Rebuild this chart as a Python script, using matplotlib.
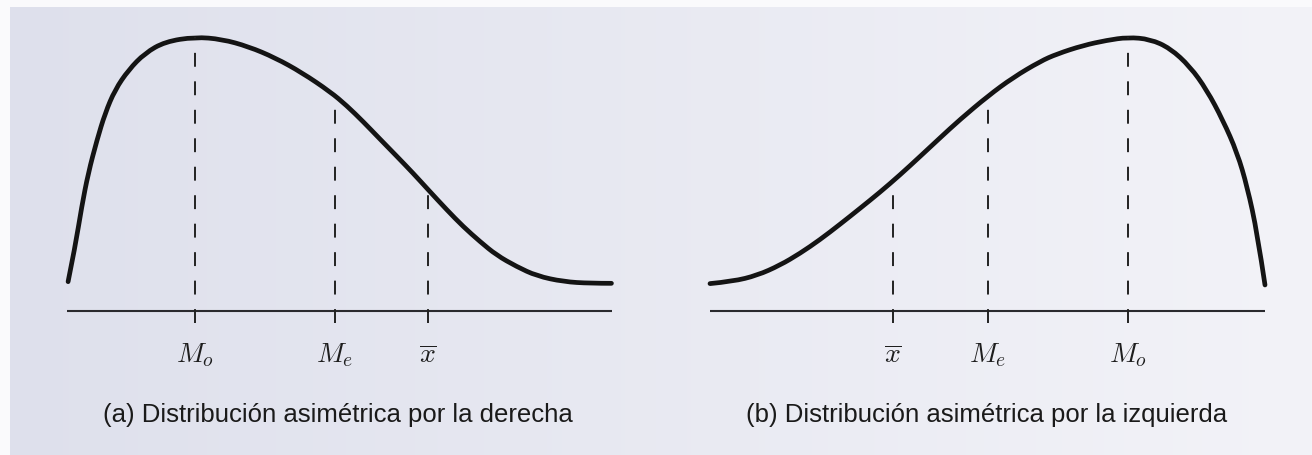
import numpy as np
import matplotlib
matplotlib.use("Agg")
import matplotlib.pyplot as plt
from matplotlib.path import Path
from matplotlib.patches import PathPatch

plt.rcParams["mathtext.fontset"] = "cm"
plt.rcParams["lines.scale_dashes"] = False

# --- (a) right-skewed density: x from 0 to 10 along the axis, height relative to the peak
right_skew_x = [0.02, 0.15, 0.27, 0.39, 0.55, 0.70, 0.88, 1.13, 1.43, 1.80, 2.35,
                2.84, 3.33, 3.82, 4.31, 4.83, 5.13, 5.44, 5.74, 6.05, 6.35, 6.63,
                6.97, 7.27, 7.58, 7.88, 8.25, 8.62, 9.11, 9.60, 9.99]
right_skew_y = [0.107, 0.235, 0.381, 0.503, 0.624, 0.722, 0.807, 0.880, 0.941, 0.983, 1.000,
                0.992, 0.965, 0.924, 0.870, 0.800, 0.750, 0.690, 0.628, 0.565, 0.503, 0.442,
                0.369, 0.308, 0.253, 0.204, 0.162, 0.128, 0.107, 0.101, 0.101]
right_skew_marks = [2.35, 4.92, 6.63]

# --- (b) left-skewed density
left_skew_x = [0.00, 0.41, 0.85, 1.26, 1.62, 1.98, 2.34, 2.70, 3.06, 3.42, 3.78, 4.14,
               4.50, 5.01, 5.46, 5.95, 6.25, 6.72, 7.15, 7.53, 7.93, 8.29, 8.65, 8.95,
               9.24, 9.50, 9.68, 9.86, 10.00]
left_skew_y = [0.100, 0.108, 0.130, 0.167, 0.210, 0.260, 0.316, 0.374, 0.433, 0.496,
               0.563, 0.631, 0.698, 0.785, 0.852, 0.911, 0.938, 0.969, 0.988, 0.999,
               0.992, 0.959, 0.892, 0.807, 0.697, 0.577, 0.453, 0.285, 0.095]
left_skew_marks = [3.30, 5.01, 7.53]

right_skew_labels = [r"$M_o$", r"$M_e$", r"$\overline{x}$"]
left_skew_labels = [r"$\overline{x}$", r"$M_e$", r"$M_o$"]

captions = ["(a) Distribución asimétrica por la derecha",
            "(b) Distribución asimétrica por la izquierda"]

W, H = 1312, 455
fig = plt.figure(figsize=(W / 100, H / 100), dpi=100)

# page background: pale lavender paper, brighter to the right, white margin strip
bg = fig.add_axes([0, 0, 1, 1], zorder=-10)
bg.set_axis_off()
cols = np.linspace(0, 1, W)
left_c = np.array([222, 224, 236]) / 255
right_c = np.array([243, 243, 248]) / 255
row = left_c[None, :] * (1 - cols[:, None]) + right_c[None, :] * cols[:, None]
img = np.repeat(row[None, :, :], H, axis=0)
img[:, :10, :] = np.array([250, 250, 252]) / 255
img[:7, :, :] = np.array([250, 250, 252]) / 255
bg.imshow(img, aspect="auto", extent=[0, 1, 0, 1], interpolation="bilinear")
bg.set_xlim(0, 1)
bg.set_ylim(0, 1)

ink = "#141414"


def smooth_path(xs, ys):
    """Quadratic Bezier path using the sampled points as control points."""
    p = np.column_stack([xs, ys])
    verts = [p[0]]
    codes = [Path.MOVETO]
    for i in range(1, len(p) - 2):
        verts += [p[i], (p[i] + p[i + 1]) / 2]
        codes += [Path.CURVE3, Path.CURVE3]
    verts += [p[-2], p[-1]]
    codes += [Path.CURVE3, Path.CURVE3]
    return Path(verts, codes)


def panel(rect, xs, ys, marks, labels):
    ax = fig.add_axes(rect)
    ax.set_xlim(0, 10)
    ax.set_ylim(0, 1)
    ax.set_axis_off()
    # baseline
    ax.plot([0, 10], [0, 0], color="#2a2a2e", lw=1.5, solid_capstyle="butt", clip_on=False)
    # density curve
    ax.add_patch(PathPatch(smooth_path(xs, ys), facecolor="none", edgecolor=ink,
                           lw=3.4, capstyle="round", joinstyle="round", clip_on=False))
    # dashed reference lines, drawn upward from below the baseline to the curve
    for m, lab in zip(marks, labels):
        top = np.interp(m, xs, ys)
        ax.plot([m, m], [-0.045, top], color="#222222", lw=1.4,
                dashes=(10, 10.5), clip_on=False)
        ax.text(m, -0.16, lab, ha="center", va="center", fontsize=20,
                color="#1e1e1e")
    return ax


panel([67 / W, (H - 311) / H, 545 / W, 274 / H],
      right_skew_x, right_skew_y, right_skew_marks, right_skew_labels)
panel([710 / W, (H - 311) / H, 555 / W, 274 / H],
      left_skew_x, left_skew_y, left_skew_marks, left_skew_labels)

for cx, txt in zip([338, 987], captions):
    fig.text(cx / W, 1 - 415 / H, txt, ha="center", va="center",
             fontsize=18.5, family="Liberation Sans", color="#1a1a1a")

fig.savefig("out.png", dpi=100)
